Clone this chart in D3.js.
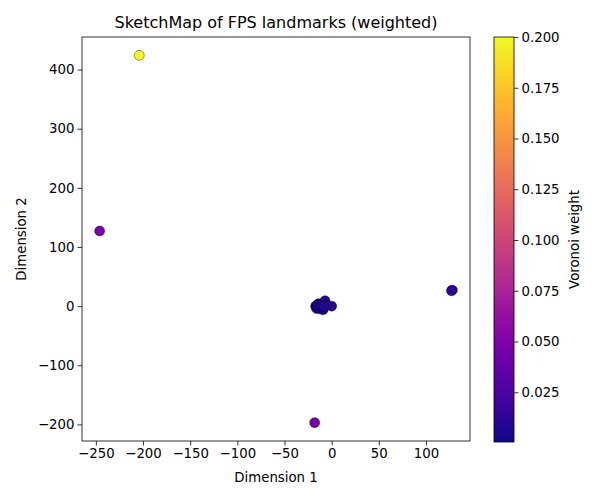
<!DOCTYPE html>
<html>
<head>
<meta charset="utf-8">
<script src="https://cdn.jsdelivr.net/npm/d3@7"></script>
<style>
  body { margin: 0; background: #fff; }
  text { font-family: "DejaVu Sans", sans-serif; fill: #000; }
</style>
</head>
<body>
<div id="chart"></div>
<script>
// landmark positions (Dimension 1, Dimension 2) and their Voronoi weights
var dim1 = [-204, -246, -18, 128, 127, -17, -14, -10, -7, 0, -16, -12, -9, -5, -15, -11, -8];
var dim2 = [424, 127, -197, 27, 26, 0, 4, -2, 9, 0, -4, -5, -6, 2, 2, 1, -1];
var weights = [0.200, 0.048, 0.045, 0.018, 0.012, 0.006, 0.004, 0.008, 0.010, 0.012, 0.003, 0.005, 0.0005, 0.007, 0.004, 0.006, 0.009];
var xTicks = [-250, -200, -150, -100, -50, 0, 50, 100];
var yTicks = [-200, -100, 0, 100, 200, 300, 400];
var cbTicks = [0.025, 0.050, 0.075, 0.100, 0.125, 0.150, 0.175, 0.200];

var W = 600, H = 500;
var margin = { top: 37, left: 82 },
  width = 388,
  height = 404;

var svg = d3.select("#chart").append("svg")
  .attr("width", W).attr("height", H);

var g = svg.append("g")
  .attr("transform", "translate(" + margin.left + "," + margin.top + ")");

// matplotlib-like 5% padding
function padded(arr) {
  var e = d3.extent(arr), r = e[1] - e[0];
  return [e[0] - 0.05 * r, e[1] + 0.05 * r];
}

var x = d3.scaleLinear().domain(padded(dim1)).range([0, width]);
var y = d3.scaleLinear().domain(padded(dim2)).range([height, 0]);
var color = d3.scaleSequential(d3.interpolatePlasma).domain(d3.extent(weights));

var pts = dim1.map(function (d, i) { return { x: d, y: dim2[i], w: weights[i] }; });

g.selectAll("circle")
  .data(pts)
  .enter().append("circle")
  .attr("cx", function (d) { return x(d.x); })
  .attr("cy", function (d) { return y(d.y); })
  .attr("r", 5)
  .attr("fill", function (d) { return color(d.w); })
  .attr("stroke", "#000")
  .attr("stroke-opacity", 0.65)
  .attr("stroke-width", 0.6);

var xAxis = g.append("g")
  .attr("transform", "translate(0," + height + ")")
  .call(d3.axisBottom(x).tickValues(xTicks).tickSize(4.5).tickPadding(3));
var yAxis = g.append("g")
  .call(d3.axisLeft(y).tickValues(yTicks).tickSize(4.5).tickPadding(3));
[xAxis, yAxis].forEach(function (a) {
  a.select(".domain").remove();
  a.selectAll("text").style("font-size", "13.3px").style("font-family", "DejaVu Sans");
  a.selectAll("line").attr("stroke", "#000").attr("stroke-width", 0.8);
});

g.append("rect")
  .attr("width", width).attr("height", height)
  .attr("fill", "none").attr("stroke", "#000").attr("stroke-width", 0.8);

svg.append("text")
  .attr("x", margin.left + width / 2).attr("y", 28)
  .attr("text-anchor", "middle").style("font-size", "16px")
  .text("SketchMap of FPS landmarks (weighted)");

svg.append("text")
  .attr("x", margin.left + width / 2).attr("y", 482)
  .attr("text-anchor", "middle").style("font-size", "13.3px")
  .text("Dimension 1");

svg.append("text")
  .attr("transform", "translate(26," + (margin.top + height / 2) + ") rotate(-90)")
  .attr("text-anchor", "middle").style("font-size", "13.3px")
  .text("Dimension 2");

// colorbar
var cbX = 494, cbW = 20, cbTop = 37, cbH = 405;
var cb = d3.scaleLinear().domain(color.domain()).range([cbTop + cbH, cbTop]);

var defs = svg.append("defs");
var grad = defs.append("linearGradient").attr("id", "cbgrad")
  .attr("x1", 0).attr("y1", 1).attr("x2", 0).attr("y2", 0);
d3.range(0, 1.0001, 0.05).forEach(function (t) {
  grad.append("stop").attr("offset", t).attr("stop-color", d3.interpolatePlasma(t));
});
svg.append("rect")
  .attr("x", cbX).attr("y", cbTop).attr("width", cbW).attr("height", cbH)
  .attr("fill", "url(#cbgrad)").attr("stroke", "#000").attr("stroke-width", 0.8);

var cbAxis = svg.append("g")
  .attr("transform", "translate(" + (cbX + cbW) + ",0)")
  .call(d3.axisRight(cb).tickValues(cbTicks).tickFormat(d3.format(".3f")).tickSize(4.5).tickPadding(3));
cbAxis.select(".domain").remove();
cbAxis.selectAll("text").style("font-size", "13.3px").style("font-family", "DejaVu Sans");
cbAxis.selectAll("line").attr("stroke", "#000").attr("stroke-width", 0.8);

svg.append("text")
  .attr("transform", "translate(579," + (cbTop + cbH / 2) + ") rotate(-90)")
  .attr("text-anchor", "middle").style("font-size", "13.3px")
  .text("Voronoi weight");
</script>
</body>
</html>
